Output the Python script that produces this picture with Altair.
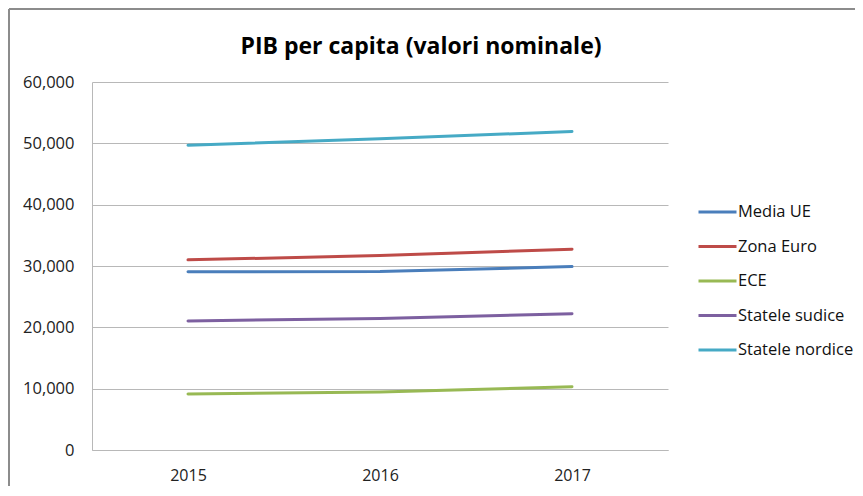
import altair as alt
import pandas as pd

years = ["2015", "2016", "2017"]
series = ["Media UE", "Zona Euro", "ECE", "Statele sudice", "Statele nordice"]
media_ue = [29050, 29100, 29900]
zona_euro = [31000, 31700, 32750]
ece = [9120, 9450, 10320]
statele_sudice = [21050, 21420, 22220]
statele_nordice = [49680, 50760, 51930]
colors = ["#4A7EBB", "#BE4B48", "#98B954", "#7D60A0", "#46AAC5"]
y_ticks = [0, 10000, 20000, 30000, 40000, 50000, 60000]

values = [media_ue, zona_euro, ece, statele_sudice, statele_nordice]
rows = []
for s, vals in zip(series, values):
    for yr, v in zip(years, vals):
        rows.append({"An": yr, "Serie": s, "Valoare": v})
df = pd.DataFrame(rows)

FONT = "Open Sans"
GRID = "#b8b8b8"

lines = alt.Chart(df).mark_line(strokeWidth=3, strokeCap="round").encode(
    x=alt.X("An:O", sort=years, title=None,
            axis=alt.Axis(labelAngle=0, ticks=False, tickSize=0, labelPadding=17,
                          domainColor=GRID, labelFont=FONT, labelFontSize=16,
                          labelColor="#222", grid=False)),
    y=alt.Y("Valoare:Q", title=None,
            scale=alt.Scale(domain=[0, 60000], nice=False),
            axis=alt.Axis(values=y_ticks, format=",d", ticks=False, tickSize=0,
                          labelPadding=18, domainColor=GRID, gridColor=GRID,
                          labelFont=FONT, labelFontSize=16.5, labelColor="#222")),
    color=alt.Color("Serie:N", sort=series,
                    scale=alt.Scale(domain=series, range=colors),
                    legend=alt.Legend(title=None, orient="none", legendX=605, legendY=119,
                                      symbolType="M-1,0H3", symbolSize=361,
                                      symbolStrokeWidth=3, labelOffset=19,
                                      rowPadding=14.5, labelFont=FONT, labelFontSize=16.5,
                                      labelColor="#111")),
)

frame_df = pd.DataFrame({"k": [0]})
top_line = alt.Chart(frame_df).mark_rule(color="#8c8c8c", strokeWidth=2).encode(
    x=alt.value(-83), x2=alt.value(800), y=alt.value(-73)
)
left_line = alt.Chart(frame_df).mark_rule(color="#8c8c8c", strokeWidth=2).encode(
    x=alt.value(-83), y=alt.value(-73), y2=alt.value(420)
)

chart = alt.layer(lines, top_line, left_line).properties(
    width=576,
    height=368,
    title=alt.TitleParams("PIB per capita (valori nominale)", font=FONT, fontSize=23,
                          fontWeight="bold", color="#000", anchor="middle", dx=41,
                          offset=-51),
    autosize=alt.AutoSizeParams(type="none"),
    padding={"left": 84, "top": 74, "right": 187, "bottom": 36},
).configure_view(stroke=None)

chart.save("out.html", embed_options={"renderer": "svg", "actions": False})
